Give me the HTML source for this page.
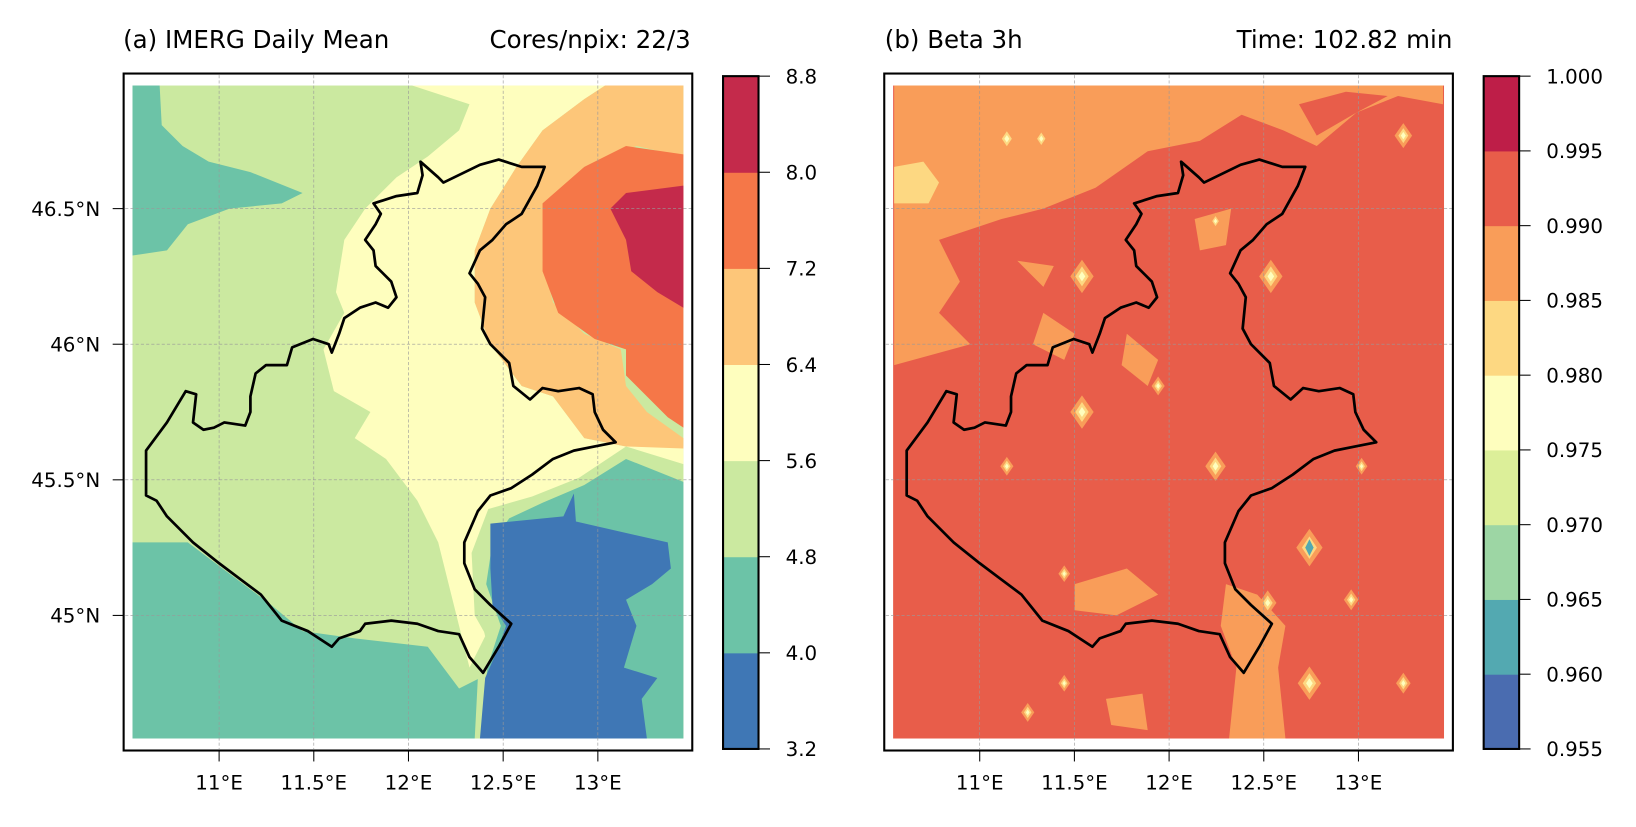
<!DOCTYPE html>
<html><head><meta charset="utf-8"><style>
body{margin:0;background:#fff;font-family:"DejaVu Sans","Liberation Sans",sans-serif}
svg text{font-family:"DejaVu Sans","Liberation Sans",sans-serif;fill:#000}
</style></head><body>
<svg id="s" width="1636" height="823" viewBox="0 0 1568 789" preserveAspectRatio="none" xmlns="http://www.w3.org/2000/svg"></svg>
<script>
// ---- data ----
const levelsA=[3.2,4.0,4.8,5.6,6.4,7.2,8.0,8.8];
const colorsA=['#3f77b5','#6cc3a7','#cbe9a0','#fefebe','#fdc679','#f57748','#c42a4b'];
const levelsB=[0.955,0.960,0.965,0.970,0.975,0.980,0.985,0.990,0.995,1.000];
const colorsB=['#4a6cb0','#53a9b1','#9dd6a4','#dcef99','#fefebe','#fdd882','#f99d59','#e85d4a','#be1e48'];
const lonTicks=[11,11.5,12,12.5,13];
const lonLabels=['11°E','11.5°E','12°E','12.5°E','13°E'];
const latTicks=[46.5,46,45.5,45];
const latLabels=['46.5°N','46°N','45.5°N','45°N'];
// geometry (panel-a reference pixel frame)
const outline=[[403,155],[420,170],[425,175],[460,158],[478,153],[500,160],[522,160],[515,178],[500,205],[485,215],[472,230],[460,240],[450,262],[458,272],[465,285],[462,315],[470,330],[488,348],[492,370],[508,383],[520,372],[535,375],[555,372],[568,378],[570,395],[578,412],[590,424],[570,428],[550,432],[530,440],[510,455],[490,468],[470,475],[458,490],[445,520],[445,540],[455,565],[470,580],[490,598],[478,620],[463,645],[450,630],[440,608],[420,605],[400,598],[375,595],[350,598],[345,605],[325,612],[318,620],[295,605],[270,595],[250,570],[230,555],[210,540],[185,520],[160,495],[150,480],[140,475],[140,432],[160,405],[178,375],[188,378],[185,405],[195,412],[205,410],[215,405],[235,408],[240,395],[240,380],[245,358],[255,350],[275,350],[280,333],[300,325],[315,330],[318,338],[325,320],[330,305],[345,295],[360,290],[372,295],[380,285],[375,270],[360,255],[358,240],[350,230],[360,215],[365,205],[358,195],[380,188],[400,185],[405,168]];
const regionsA=[
 [1,[[127,82],[153,82],[155,120],[175,140],[200,155],[240,165],[290,185],[270,195],[220,200],[180,215],[160,240],[127,245]]],
 [1,[[127,520],[180,520],[220,550],[260,580],[290,605],[340,612],[410,620],[440,660],[460,650],[460,708],[127,708]]],
 [3,[[395,82],[580,82],[560,95],[520,125],[495,160],[470,200],[455,240],[455,290],[470,330],[500,370],[530,380],[560,420],[600,428],[655,428],[655,460],[600,450],[560,470],[520,480],[480,490],[460,530],[458,580],[465,610],[450,640],[440,600],[430,560],[420,520],[400,480],[370,440],[340,420],[355,395],[320,375],[310,335],[330,300],[322,280],[330,230],[350,200],[380,170],[410,150],[440,125],[450,100]]],
 [4,[[580,82],[655,82],[655,150],[610,140],[560,160],[525,200],[520,250],[530,290],[560,320],[595,335],[600,370],[620,395],[655,420],[655,430],[600,428],[560,420],[530,380],[500,370],[470,330],[455,290],[455,240],[470,200],[495,160],[520,125],[560,95]]],
 [5,[[655,148],[600,140],[560,160],[520,195],[520,260],[535,300],[570,325],[600,335],[600,360],[620,380],[640,400],[655,410]]],
 [6,[[585,200],[600,185],[655,178],[655,295],[630,280],[605,260],[600,230]]],
 [2,[[655,445],[600,428],[555,458],[510,476],[468,488],[452,530],[455,590],[472,620],[458,650],[455,708],[655,708]]],
 [1,[[655,462],[600,440],[560,465],[520,482],[488,497],[472,520],[466,560],[480,600],[467,640],[462,708],[655,708]]],
 [0,[[470,502],[540,495],[550,473],[552,500],[640,520],[643,545],[625,560],[600,575],[610,600],[598,640],[630,650],[615,670],[620,708],[460,708],[465,650],[478,620],[485,600],[472,580],[470,545]]]
];
// panel-b geometry (absolute pixel frame)
const regionsB=[
 [6,[[857,82],[1383,82],[1383,100],[1340,92],[1300,108],[1262,140],[1230,125],[1190,110],[1150,135],[1100,145],[1050,180],[1000,200],[960,210],[900,230],[920,270],[900,300],[930,330],[857,350]]],
 [7,[[1245,100],[1290,88],[1330,92],[1300,108],[1262,130]]],
 [6,[[1175,560],[1205,570],[1232,600],[1225,640],[1232,708],[1178,708],[1185,640],[1170,600]]],
 [6,[[1000,300],[1030,320],[1020,345],[990,330]]],
 [6,[[1080,320],[1110,345],[1100,370],[1075,350]]],
 [6,[[1030,560],[1080,545],[1110,570],[1070,590],[1030,585]]],
 [6,[[1060,670],[1095,665],[1100,700],[1065,695]]],
 [6,[[975,250],[1010,255],[1000,275]]],
 [6,[[1145,210],[1180,200],[1175,235],[1150,240]]],
 [5,[[857,160],[885,155],[900,175],[890,195],[857,195]]]
];
const spotsB=[[1037,265,16],[1218,265,16],[1037,395,16],[1165,447,14],[1255,525,18],[1255,655,16],[1345,130,12],[1215,578,12],[965,133,12],[998,133,10],[1110,370,9],[1020,550,8],[1295,575,10],[1345,655,10],[985,683,9],[1020,655,8],[1165,212,8],[965,447,9],[1305,447,8]];
// ---- drawing ----
const NS='http://www.w3.org/2000/svg', S=document.getElementById('s');
function el(t,a,p){const e=document.createElementNS(NS,t);for(const k in a)e.setAttribute(k,a[k]);(p||S).appendChild(e);return e;}
const xA=lon=>210+(lon-11)*181.5, yA=lat=>200-(lat-46.5)*260;
function pts(arr,dx){return arr.map(p=>(p[0]+dx)+','+p[1]).join(' ');}
function panel(dx,bg,regions,colors,name){
  const g=el('g',{});
  
  
  el('rect',{x:127+dx,y:82,width:528,height:626,fill:bg},g);
  regions.forEach(r=>{const p=el('polygon',{points:pts(r[1],0),fill:colors[r[0]]},g);
    
    });
  return g;
}
const gA=panel(0,colorsA[2],regionsA,colorsA,'map-imerg');
const gB=panel(729,colorsB[7],regionsB,colorsB,'map-beta');
spotsB.forEach(s=>{const[x,y,r]=s;
  el('polygon',{points:`${x},${y-r} ${x+r*0.7},${y} ${x},${y+r} ${x-r*0.7},${y}`,fill:colorsB[6]},gB);
  el('polygon',{points:`${x},${y-r*0.6} ${x+r*0.4},${y} ${x},${y+r*0.6} ${x-r*0.4},${y}`,fill:colorsB[5]},gB);
  el('polygon',{points:`${x},${y-r*0.3} ${x+r*0.2},${y} ${x},${y+r*0.3} ${x-r*0.2},${y}`,fill:colorsB[4]},gB);
});
el('polygon',{points:'1255,517 1259,525 1255,533 1251,525',fill:colorsB[1]});
[[0,'panel-a'],[729,'panel-b']].forEach(([dx,nm])=>{
  lonTicks.forEach((v,i)=>{const x=xA(v)+dx;
    el('line',{x1:x,y1:72,x2:x,y2:718,stroke:'#999','stroke-width':0.6,'stroke-dasharray':'3,2'});
    el('line',{x1:x,y1:720,x2:x,y2:730,stroke:'#000','stroke-width':1});
    const t=el('text',{x:x,y:757,'font-size':19,'text-anchor':'middle'});t.textContent=lonLabels[i];
    });
  latTicks.forEach((v,i)=>{const y=yA(v);
    el('line',{x1:120+dx,y1:y,x2:663+dx,y2:y,stroke:'#999','stroke-width':0.6,'stroke-dasharray':'3,2'});
    if(dx===0){el('line',{x1:108,y1:y,x2:118,y2:y,stroke:'#000'});
      const t=el('text',{x:96,y:y+7,'font-size':19,'text-anchor':'end'});t.textContent=latLabels[i];
      }});
  const o=el('polygon',{points:pts(outline,dx),fill:'none',stroke:'#000','stroke-width':2.6,'stroke-linejoin':'round'});
  
  const f=el('rect',{x:118.5+dx,y:70.5,width:545,height:649,fill:'none',stroke:'#000','stroke-width':2});
  
});
function cbar(x,levels,colors,fmt,nm){
  const top=73,bot=718,n=colors.length,h=(bot-top)/n;
  const g=el('g',{});
  colors.forEach((c,i)=>el('rect',{x:x,y:bot-(i+1)*h,width:34,height:h+0.5,fill:c},g));
  el('rect',{x:x,y:top,width:34,height:bot-top,fill:'none',stroke:'#000','stroke-width':2},g);
  levels.forEach(v=>{const y=bot-(v-levels[0])/(levels[levels.length-1]-levels[0])*(bot-top);
    el('line',{x1:x+34,y1:y,x2:x+45,y2:y,stroke:'#000'},g);
    const t=el('text',{x:x+60,y:y+7,'font-size':19},g);t.textContent=fmt(v);
    });
}
cbar(693,levelsA,colorsA,v=>v.toFixed(1),'colorbar-imerg');
cbar(1422,levelsB,colorsB,v=>v.toFixed(3),'colorbar-beta');
[[118,'(a) IMERG Daily Mean','start','title-a'],[662,'Cores/npix: 22/3','end','subtitle-a'],[848,'(b) Beta 3h','start','title-b'],[1392,'Time: 102.82 min','end','subtitle-b']].forEach(a=>{
  const t=el('text',{x:a[0],y:46,'font-size':23.5,'text-anchor':a[2]});t.textContent=a[1];
  });
</script>
</body></html>
